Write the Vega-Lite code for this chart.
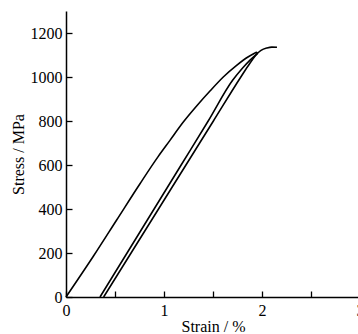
{
  "$schema": "https://vega.github.io/schema/vega-lite/v6.json",
  "width": 294,
  "height": 286,
  "autosize": {"type": "none"},
  "padding": {"left": 66, "top": 11, "right": 0, "bottom": 37},
  "background": "white",
  "config": {
    "view": {"stroke": null},
    "font": "Liberation Serif",
    "axis": {
      "grid": false,
      "domainColor": "black",
      "domainWidth": 1.5,
      "tickColor": "black",
      "tickWidth": 1.3,
      "labelColor": "black",
      "titleColor": "black",
      "labelFont": "Liberation Serif",
      "titleFont": "Liberation Serif",
      "labelFontSize": 16,
      "titleFontSize": 16,
      "titleFontWeight": "normal"
    }
  },
  "data": {
    "values": [
      {"s": "load", "strain": 0.0, "stress": 0},
      {"s": "load", "strain": 0.279, "stress": 185},
      {"s": "load", "strain": 0.517, "stress": 350},
      {"s": "load", "strain": 0.755, "stress": 515},
      {"s": "load", "strain": 0.94, "stress": 638},
      {"s": "load", "strain": 1.061, "stress": 712},
      {"s": "load", "strain": 1.197, "stress": 795},
      {"s": "load", "strain": 1.333, "stress": 868},
      {"s": "load", "strain": 1.469, "stress": 936},
      {"s": "load", "strain": 1.605, "stress": 1000},
      {"s": "load", "strain": 1.741, "stress": 1053},
      {"s": "load", "strain": 1.861, "stress": 1092},
      {"s": "load", "strain": 1.929, "stress": 1109},
      {"s": "load", "strain": 1.942, "stress": 1112},
      {"s": "load", "strain": 1.955, "stress": 1108},
      {"s": "unload", "strain": 0.347, "stress": 0},
      {"s": "unload", "strain": 0.623, "stress": 200},
      {"s": "unload", "strain": 0.899, "stress": 400},
      {"s": "unload", "strain": 1.175, "stress": 600},
      {"s": "unload", "strain": 1.451, "stress": 800},
      {"s": "unload", "strain": 1.70, "stress": 985},
      {"s": "unload", "strain": 1.80, "stress": 1040},
      {"s": "unload", "strain": 1.878, "stress": 1077},
      {"s": "unload", "strain": 1.955, "stress": 1108},
      {"s": "reload", "strain": 0.384, "stress": 0},
      {"s": "reload", "strain": 0.664, "stress": 200},
      {"s": "reload", "strain": 0.944, "stress": 400},
      {"s": "reload", "strain": 1.224, "stress": 600},
      {"s": "reload", "strain": 1.504, "stress": 800},
      {"s": "reload", "strain": 1.784, "stress": 1000},
      {"s": "reload", "strain": 1.88, "stress": 1065},
      {"s": "reload", "strain": 1.93, "stress": 1095},
      {"s": "reload", "strain": 1.955, "stress": 1108},
      {"s": "reload", "strain": 1.99, "stress": 1121},
      {"s": "reload", "strain": 2.051, "stress": 1132},
      {"s": "reload", "strain": 2.1, "stress": 1136},
      {"s": "reload", "strain": 2.153, "stress": 1135}
    ]
  },
  "mark": {"type": "line", "color": "black", "strokeWidth": 1.6, "clip": false, "interpolate": "monotone"},
  "encoding": {
    "x": {
      "field": "strain",
      "type": "quantitative",
      "scale": {"domain": [0, 3], "nice": false, "zero": false},
      "axis": {
        "title": "Strain / %",
        "values": [0, 0.5, 1, 1.5, 2, 2.5, 3],
        "labelExpr": "datum.value % 1 === 0 ? '' + datum.value : ''",
        "tickSize": -6,
        "labelPadding": 11,
        "titlePadding": 0,
        "labelFlush": false,
        "labelOverlap": false
      }
    },
    "y": {
      "field": "stress",
      "type": "quantitative",
      "scale": {"domain": [0, 1300], "nice": false},
      "axis": {
        "title": "Stress / MPa",
        "values": [0, 200, 400, 600, 800, 1000, 1200],
        "labelExpr": "'' + datum.value",
        "tickSize": -6,
        "labelPadding": 10,
        "titlePadding": 4,
        "labelFlush": false,
        "labelOverlap": false
      }
    },
    "detail": {"field": "s"}
  }
}
